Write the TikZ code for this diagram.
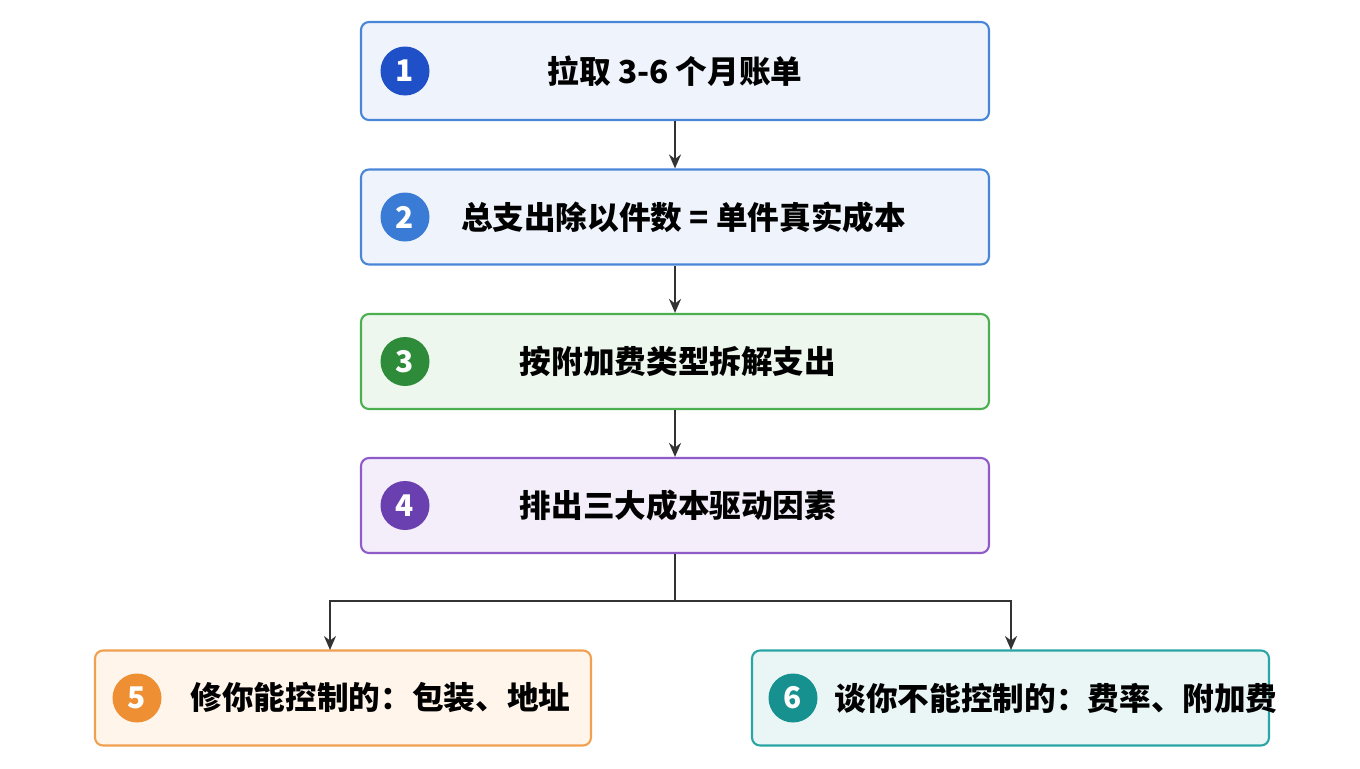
\documentclass[tikz,border=0pt]{standalone}
\usepackage{fontspec}
\setmainfont{Noto Sans CJK SC}
\usetikzlibrary{arrows.meta}
\tikzset{>={Stealth[length=1.4mm,width=1.2mm]}}
\definecolor{bBlue}{HTML}{4A86D8}\definecolor{fBlue}{HTML}{EEF3FC}
\definecolor{cBlueA}{HTML}{1F50C8}\definecolor{cBlueB}{HTML}{3A7BD5}
\definecolor{bGreen}{HTML}{4CAF50}\definecolor{fGreen}{HTML}{EEF7EE}\definecolor{cGreen}{HTML}{2E8B3A}
\definecolor{bPurple}{HTML}{8E5BC8}\definecolor{fPurple}{HTML}{F3EEFA}\definecolor{cPurple}{HTML}{6A3FB0}
\definecolor{bOrange}{HTML}{F0A050}\definecolor{fOrange}{HTML}{FFF5EA}\definecolor{cOrange}{HTML}{EF8F33}
\definecolor{bTeal}{HTML}{2AA5A5}\definecolor{fTeal}{HTML}{EAF6F6}\definecolor{cTeal}{HTML}{17918F}
\definecolor{lineGrey}{HTML}{333333}
\tikzset{
    stepbox/.style={draw, line width=0.6pt, rounded corners=0.8mm, minimum height=0.95cm, inner sep=0pt},
    num/.style={circle, minimum size=0.49cm, inner sep=0pt, text=white, font=\fontsize{8.5}{10}\selectfont\bfseries},
    txt/.style={font=\fontsize{9}{11}\selectfont\bfseries, text=black, inner sep=0pt},
    link/.style={->, line width=0.6pt, draw=lineGrey}
}
\begin{document}
\begin{tikzpicture}[x=1cm, y=-1cm]
    \useasboundingbox (0, 0) rectangle (13.6, 7.68);
    % main column
    \node[stepbox, draw=bBlue, fill=fBlue, minimum width=6.28cm, minimum height=0.98cm](s1) at (6.75, 0.71) {};
    \node[stepbox, draw=bBlue, fill=fBlue, minimum width=6.28cm](s2) at (6.75, 2.17) {};
    \node[stepbox, draw=bGreen, fill=fGreen, minimum width=6.28cm](s3) at (6.75, 3.615) {};
    \node[stepbox, draw=bPurple, fill=fPurple, minimum width=6.28cm](s4) at (6.75, 5.055) {};
    \node[stepbox, draw=bOrange, fill=fOrange, minimum width=4.96cm](s5) at (3.43, 6.98) {};
    \node[stepbox, draw=bTeal, fill=fTeal, minimum width=5.17cm](s6) at (10.105, 6.98) {};
    \node[num, fill=cBlueA] at (4.05, 0.71) {1};
    \node[num, fill=cBlueB] at (4.05, 2.17) {2};
    \node[num, fill=cGreen] at (4.05, 3.615) {3};
    \node[num, fill=cPurple] at (4.05, 5.055) {4};
    \node[num, fill=cOrange] at (1.37, 6.98) {5};
    \node[num, fill=cTeal] at (7.93, 6.98) {6};
    \node[txt] at (6.75, 0.71) {拉取 3-6 个月账单};
    \node[txt] at (6.835, 2.17) {总支出除以件数 = 单件真实成本};
    \node[txt] at (6.78, 3.615) {按附加费类型拆解支出};
    \node[txt] at (6.78, 5.055) {排出三大成本驱动因素};
    \node[txt, anchor=west] at (1.90, 6.98) {修你能控制的：包装、地址};
    \node[txt, anchor=west] at (8.34, 6.98) {谈你不能控制的：费率、附加费};
    % connectors
    \draw[link](s1)--(s2);
    \draw[link](s2)--(s3);
    \draw[link](s3)--(s4);
    \coordinate (fork) at (6.75, 6.01);
    \coordinate (in5) at (3.30, 6.50);
    \coordinate (in6) at (10.11, 6.50);
    \draw[line width=0.6pt, draw=lineGrey](s4.south)--(fork);
    \draw[link](fork)-|(in5);
    \draw[link](fork)-|(in6);
\end{tikzpicture}
\end{document}
